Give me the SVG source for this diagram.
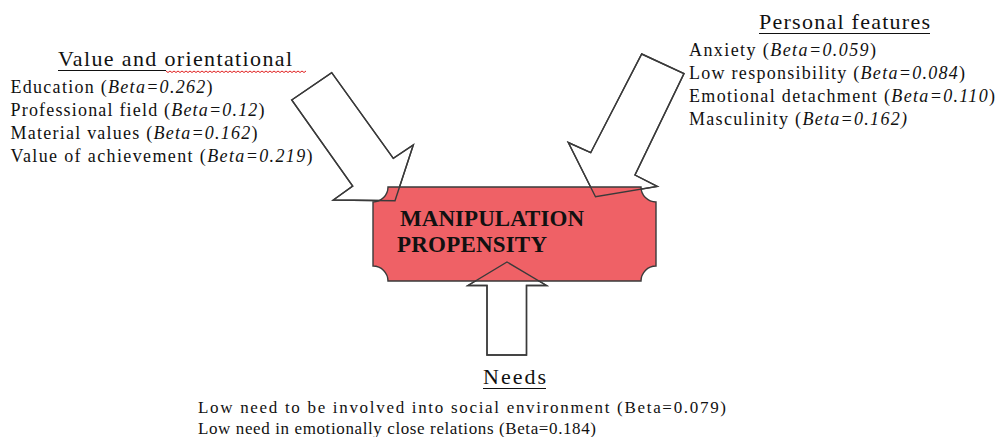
<svg xmlns="http://www.w3.org/2000/svg" width="999" height="437" viewBox="0 0 999 437">
<style>
  text { font-family: "Liberation Serif", "Times New Roman", serif; fill: #111; }
  .hd { font-size: 22px; }
  .it { font-size: 18px; }
  .nd { font-size: 17px; }
  .em { font-style: italic; }
  .ttl { font-size: 23px; font-weight: bold; }
  .arrow { fill: #fff; stroke: #3a3a3a; stroke-width: 1.4; stroke-linejoin: miter; }
  .arrowline { fill: none; stroke: #3a3a3a; stroke-width: 1.4; stroke-linejoin: miter; }
  .plaque { fill: #EF6166; stroke: #3a3a3a; stroke-width: 1.4; }
  .ul { stroke: #111; stroke-width: 1.2; }
</style>
<defs>
  <polygon id="arrL" points="291.7,100 331.7,72.7 393.3,158.3 413.3,145 395,200.7 333.3,200 352.7,186"/>
  <polygon id="arrR" points="641.7,54 684,73.5 635,175 657.3,186.5 595.5,196.7 568.3,142.5 590.7,152.7"/>
  <polygon id="arrB" points="507,262 546.5,285.5 526.5,285.5 526.5,355 487,355 487,285.5 468,285.5"/>
</defs>
<g id="connectors">
  <use href="#arrL" class="arrow"/>
  <use href="#arrR" class="arrow"/>
  <use href="#arrB" class="arrow"/>
</g>
<g id="manipulation-propensity">
  <path class="plaque" d="M388,187 H641 A15,15 0 0 0 656,202 V266 A15,15 0 0 0 641,281 H388 A15,15 0 0 0 373,266 V202 A15,15 0 0 0 388,187 Z"/>
  <text class="ttl" x="400" y="226" textLength="184" lengthAdjust="spacing">MANIPULATION</text>
  <text class="ttl" x="397" y="252" textLength="150" lengthAdjust="spacing">PROPENSITY</text>
</g>
<g id="connector-outlines">
  <use href="#arrL" class="arrowline"/>
  <use href="#arrR" class="arrowline"/>
  <use href="#arrB" class="arrowline"/>
</g>
<g id="value-orientational">
  <text class="hd" x="58" y="66" textLength="234" lengthAdjust="spacing">Value and orientational</text>
  <line class="ul" x1="58" y1="70.5" x2="166" y2="70.5"/>
  <path d="M166,71 l2,1.5 l2,-1.5 l2,1.5 l2,-1.5 l2,1.5 l2,-1.5 l2,1.5 l2,-1.5 l2,1.5 l2,-1.5 l2,1.5 l2,-1.5 l2,1.5 l2,-1.5 l2,1.5 l2,-1.5 l2,1.5 l2,-1.5 l2,1.5 l2,-1.5 l2,1.5 l2,-1.5 l2,1.5 l2,-1.5 l2,1.5 l2,-1.5 l2,1.5 l2,-1.5 l2,1.5 l2,-1.5 l2,1.5 l2,-1.5 l2,1.5 l2,-1.5 l2,1.5 l2,-1.5 l2,1.5 l2,-1.5 l2,1.5 l2,-1.5 l2,1.5 l2,-1.5 l2,1.5 l2,-1.5 l2,1.5 l2,-1.5 l2,1.5 l2,-1.5 l2,1.5 l2,-1.5 l2,1.5 l2,-1.5 l2,1.5 l2,-1.5 l2,1.5 l2,-1.5 l2,1.5 l2,-1.5 l2,1.5 l2,-1.5 l2,1.5 l2,-1.5 l2,1.5 l2,-1.5 l2,1.5 l2,-1.5 l2,1.5 l2,-1.5 l2,1.5 l2,-1.5" fill="none" stroke="#e02020" stroke-width="1"/>
  <text class="it" x="10.5" y="93" textLength="202" lengthAdjust="spacing">Education (<tspan class="em">Beta=0.262</tspan>)</text>
  <text class="it" x="10.5" y="116" textLength="254" lengthAdjust="spacing">Professional field (<tspan class="em">Beta=0.12</tspan>)</text>
  <text class="it" x="10.5" y="139" textLength="247" lengthAdjust="spacing">Material values (<tspan class="em">Beta=0.162</tspan>)</text>
  <text class="it" x="10.5" y="162" textLength="302" lengthAdjust="spacing">Value of achievement (<tspan class="em">Beta=0.219</tspan>)</text>
</g>
<g id="personal-features">
  <text class="hd" x="759" y="29" textLength="171" lengthAdjust="spacing">Personal features</text>
  <line class="ul" x1="759" y1="33.5" x2="930" y2="33.5"/>
  <text class="it" x="689" y="56" textLength="187" lengthAdjust="spacing">Anxiety (<tspan class="em">Beta=0.059</tspan>)</text>
  <text class="it" x="689" y="79" textLength="276" lengthAdjust="spacing">Low responsibility (<tspan class="em">Beta=0.084</tspan>)</text>
  <text class="it" x="689" y="102" textLength="306" lengthAdjust="spacing">Emotional detachment (<tspan class="em">Beta=0.110</tspan>)</text>
  <text class="it" x="689" y="125" textLength="218" lengthAdjust="spacing">Masculinity (<tspan class="em">Beta=0.162)</tspan></text>
</g>
<g id="needs">
  <text class="hd" x="483" y="384" textLength="63" lengthAdjust="spacing">Needs</text>
  <line class="ul" x1="483" y1="388.5" x2="546" y2="388.5"/>
  <text class="nd" x="198" y="413" textLength="528" lengthAdjust="spacing">Low need to be involved into social environment (Beta=0.079)</text>
  <text class="nd" x="198" y="434" textLength="398" lengthAdjust="spacing">Low need in emotionally close relations (Beta=0.184)</text>
</g>
</svg>
